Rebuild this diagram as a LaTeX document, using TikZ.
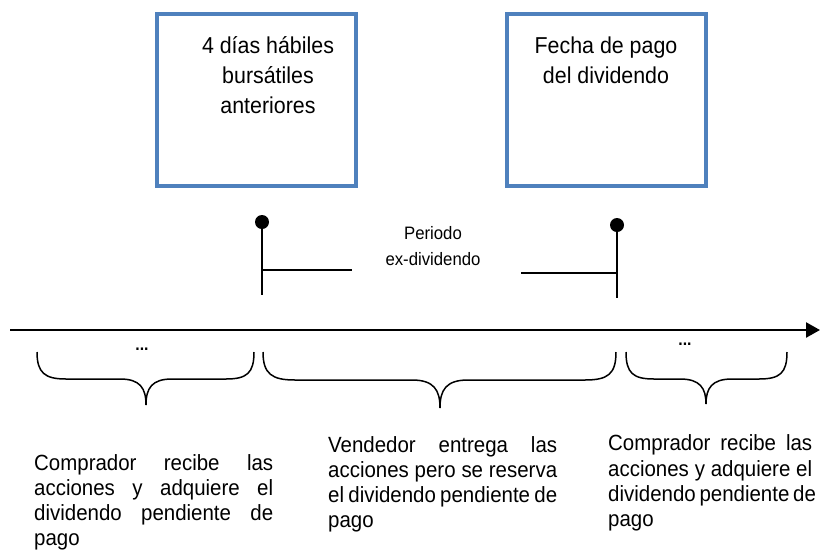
\documentclass[tikz,border=0pt]{standalone}
\usepackage{fontspec}
\setmainfont[FakeStretch=0.93]{Liberation Sans}
\usetikzlibrary{arrows.meta}
\definecolor{boxblue}{RGB}{79,129,189}
\newcommand\jline[2]{\makebox[#1][s]{#2}}
\begin{document}
\begin{tikzpicture}[x=1pt,y=-1pt,
  bigbox/.style={draw=boxblue, line width=4pt, minimum width=199pt, minimum height=172pt, inner sep=0pt},
  boxtext/.style={align=center, inner sep=0pt, font=\fontsize{23}{30}\selectfont},
  bottomtext/.style={align=left, inner sep=0pt, anchor=west, font=\fontsize{22}{25.2}\selectfont},
  stem/.style={line width=2.5pt},
  tick/.style={line width=2pt},
  bracepath/.style={line width=1.5pt},
  dotsnode/.style={inner sep=0pt, font=\bfseries\fontsize{17}{17}\selectfont},
]
\useasboundingbox (0,0) rectangle (820,550);
% boxes
\node[bigbox] (b1) at (256.5,100) {};
\node[bigbox] (b2) at (606,100) {};
\node[boxtext] (t1) at (268,75) {4 días hábiles\\bursátiles\\anteriores};
\node[boxtext] (t2) at (606,60) {Fecha de pago\\del dividendo};
% markers
\coordinate (d1) at (262,222);
\coordinate (s1) at (262,295);
\coordinate (h1a) at (262,270);
\coordinate (h1b) at (352,270);
\coordinate (d2) at (617,225);
\coordinate (s2) at (617,298);
\coordinate (h2a) at (617,273);
\coordinate (h2b) at (521,273);
\draw[stem] (d1) -- (s1);
\draw[stem] (d2) -- (s2);
\draw[tick] (h1a) -- (h1b);
\draw[tick] (h2a) -- (h2b);
\fill (d1) circle (7);
\fill (d2) circle (7);
\node[align=center, inner sep=0pt, font=\fontsize{18}{26}\selectfont] (per) at (433,246) {Periodo\\ex-dividendo};
% timeline
\coordinate (tl0) at (10,330);
\coordinate (tl1) at (820,330);
\draw[line width=2.5pt, -{Triangle[length=14pt,width=15pt]}] (tl0) -- (tl1);
\node[dotsnode] (dots1) at (142,349) {...};
\node[dotsnode] (dots2) at (685,344) {...};
% braces
\draw[bracepath] (37,352) .. controls (37,373) and (45,379) .. (66,379) -- (120,379)
  .. controls (140,379) and (146,388) .. (146,405)
  .. controls (146,388) and (152,379) .. (172,379) -- (226,379)
  .. controls (247,379) and (254,373) .. (254,352);
\draw[bracepath] (263,352) .. controls (263,374) and (272,380) .. (295,380) -- (412,380)
  .. controls (434,380) and (440,390) .. (440,408)
  .. controls (440,390) and (446,380) .. (468,380) -- (585,380)
  .. controls (608,380) and (616,374) .. (616,352);
\draw[bracepath] (626,352) .. controls (626,373) and (633,379) .. (654,379) -- (680,379)
  .. controls (700,379) and (706,388) .. (706,404)
  .. controls (706,388) and (712,379) .. (732,379) -- (759,379)
  .. controls (780,379) and (787,373) .. (787,352);
% bottom texts
\node[bottomtext] (c1) at (34,502.5) {\jline{239pt}{Comprador recibe las}\\\jline{239pt}{acciones y adquiere el}\\\jline{239pt}{dividendo pendiente de}\\pago};
\node[bottomtext] (c2) at (328,484.5) {\jline{229pt}{Vendedor entrega las}\\\jline{229pt}{acciones pero se reserva}\\\jline{229pt}{el dividendo pendiente de}\\pago};
\node[bottomtext] (c3) at (608,483) {\jline{204pt}{Comprador recibe las}\\\jline{204pt}{acciones y adquiere el}\\\jline{204pt}{dividendo pendiente de}\\pago};
\end{tikzpicture}
\end{document}
